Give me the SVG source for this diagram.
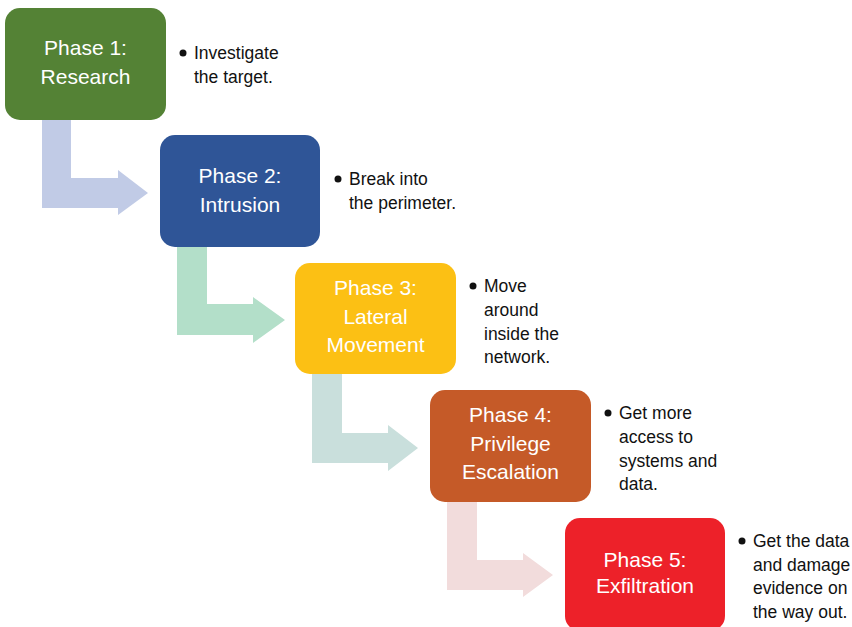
<svg xmlns="http://www.w3.org/2000/svg" width="852" height="627" viewBox="0 0 852 627">
<style>
.box{stroke:none}
.t{font-family:"Liberation Sans",Arial,sans-serif;font-size:21px;fill:#ffffff;text-anchor:middle}
.b{font-family:"Liberation Sans",Arial,sans-serif;font-size:17.5px;fill:#111111}
.dot{fill:#111111}
</style>
<rect width="852" height="627" fill="#ffffff"/>
<g id="connectors">
<path d="M42,120 H71 V178 H118 V170 L148,193 L118,215 V208 H42 Z" fill="#c1cbe6"/>
<path d="M177,247 H207 V304 H253 V297 L285,320 L253,343 V335 H177 Z" fill="#b3dfc9"/>
<path d="M312,374 H342 V433 H388 V425 L418,448 L388,471 V463 H312 Z" fill="#c9dfdc"/>
<path d="M447,502 H477 V560 H523 V553 L553,575 L523,597 V590 H447 Z" fill="#f2dcdc"/>
</g>
<g id="phase1">
<rect class="box" x="5" y="8" width="161" height="112" rx="15" fill="#548235"/>
<text class="t" x="85.5" y="55">Phase 1:</text>
<text class="t" x="85.5" y="84">Research</text>
<circle class="dot" cx="183" cy="53" r="3.5"/>
<text class="b" x="194" y="59">Investigate</text>
<text class="b" x="194" y="83">the target.</text>
</g>
<g id="phase2">
<rect class="box" x="160" y="135" width="160" height="112" rx="15" fill="#2f5597"/>
<text class="t" x="240" y="183">Phase 2:</text>
<text class="t" x="240" y="212">Intrusion</text>
<circle class="dot" cx="338" cy="179" r="3.5"/>
<text class="b" x="349" y="185">Break into</text>
<text class="b" x="349" y="209">the perimeter.</text>
</g>
<g id="phase3">
<rect class="box" x="295" y="263" width="161" height="111" rx="15" fill="#fcc014"/>
<text class="t" x="375.5" y="295">Phase 3:</text>
<text class="t" x="375.5" y="324">Lateral</text>
<text class="t" x="375.5" y="352">Movement</text>
<circle class="dot" cx="473" cy="286" r="3.5"/>
<text class="b" x="484" y="292">Move</text>
<text class="b" x="484" y="316">around</text>
<text class="b" x="484" y="340">inside the</text>
<text class="b" x="484" y="363">network.</text>
</g>
<g id="phase4">
<rect class="box" x="430" y="390" width="161" height="112" rx="15" fill="#c55a28"/>
<text class="t" x="510.5" y="422">Phase 4:</text>
<text class="t" x="510.5" y="451">Privilege</text>
<text class="t" x="510.5" y="479">Escalation</text>
<circle class="dot" cx="608" cy="413" r="3.5"/>
<text class="b" x="619" y="419">Get more</text>
<text class="b" x="619" y="443">access to</text>
<text class="b" x="619" y="467">systems and</text>
<text class="b" x="619" y="490">data.</text>
</g>
<g id="phase5">
<rect class="box" x="565" y="518" width="160" height="113" rx="15" fill="#ed2129"/>
<text class="t" x="645" y="567">Phase 5:</text>
<text class="t" x="645" y="593">Exfiltration</text>
<circle class="dot" cx="742" cy="541" r="3.5"/>
<text class="b" x="753" y="547">Get the data</text>
<text class="b" x="753" y="571">and damage</text>
<text class="b" x="753" y="594">evidence on</text>
<text class="b" x="753" y="618">the way out.</text>
</g>
</svg>
